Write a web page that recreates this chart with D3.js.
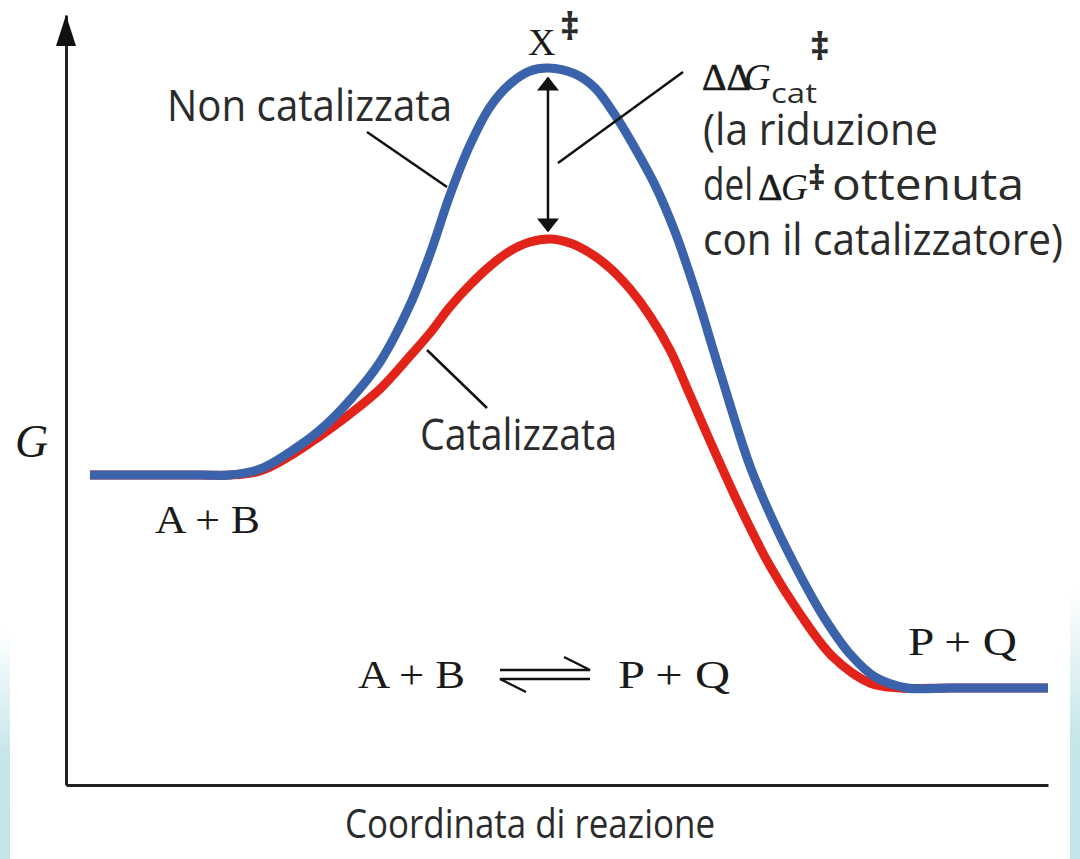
<!DOCTYPE html>
<html>
<head>
<meta charset="utf-8">
<script src="https://cdn.jsdelivr.net/npm/d3@7"></script>
<style>
  html, body { margin: 0; padding: 0; background: #fff; }
  svg { display: block; }
  .sans { font-family: "Open Sans", "Noto Sans", sans-serif; fill: #2b2b2b; }
  .serif { font-family: "Liberation Serif", "DejaVu Serif", serif; fill: #1a1a1a; }
  .delta { stroke: #1a1a1a; stroke-width: 0.7; }
</style>
</head>
<body>
<svg id="chart"></svg>
<script>
// reaction coordinate (0-100) and free energy G (0-100, arbitrary units)
const uncatX = [2.44, 13.65, 16.70, 19.76, 22.81, 25.87, 28.92, 31.98, 35.03, 37.07, 39.10, 41.14, 43.18, 45.21, 47.25, 49.08,
  51.83, 53.87, 55.91, 57.94, 59.98, 62.02, 64.05, 66.60, 69.65, 72.20, 74.75, 77.29, 79.84, 82.38, 85.64, 90.02, 100];
const uncatG = [40.26, 40.26, 40.26, 41.04, 43.25, 46.10, 50.00, 54.94, 62.34, 68.96, 76.62, 83.12, 88.05, 91.04, 92.73, 93.12,
  92.34, 90.52, 87.01, 82.73, 77.92, 71.82, 64.29, 53.64, 41.43, 33.77, 27.27, 21.56, 17.01, 14.03, 12.60, 12.60, 12.60];

const catX = [2.44, 13.65, 16.70, 19.76, 22.81, 25.87, 28.92, 31.98, 35.03, 37.07, 39.10, 41.14, 43.18, 45.21, 47.25, 49.29,
  51.32, 53.36, 55.40, 57.43, 59.47, 61.51, 63.54, 65.58, 68.64, 71.69, 74.75, 78.11, 81.87, 84.93, 90.02, 100];
const catG = [40.26, 40.26, 40.26, 40.78, 42.73, 45.32, 48.18, 51.43, 55.71, 58.70, 62.08, 64.94, 67.40, 69.35, 70.52, 70.91,
  70.39, 69.09, 67.14, 64.42, 60.91, 56.49, 50.65, 44.68, 36.10, 28.44, 22.21, 16.62, 13.25, 12.60, 12.60, 12.60];

const seriesNames = ["Catalizzata", "Non catalizzata"];
const seriesColors = ["#e2231a", "#3b63ab"];

const width = 1080, height = 859;
const margin = { top: 15, right: 32, bottom: 74, left: 66 };

const svg = d3.select("#chart").attr("width", width).attr("height", height);

const x = d3.scaleLinear().domain([0, 100]).range([margin.left, width - margin.right]);
const y = d3.scaleLinear().domain([0, 100]).range([height - margin.bottom, margin.top]);

// light blue side strips
const defs = svg.append("defs");
const grad = defs.append("linearGradient").attr("id", "strip").attr("x1", 0).attr("y1", 0).attr("x2", 0).attr("y2", 1);
grad.append("stop").attr("offset", "0%").attr("stop-color", "#ffffff");
grad.append("stop").attr("offset", "55%").attr("stop-color", "#c6e6ea");
grad.append("stop").attr("offset", "100%").attr("stop-color", "#c3e4e9");
svg.append("rect").attr("x", 0).attr("y", 630).attr("width", 10).attr("height", height - 630).attr("fill", "url(#strip)");
svg.append("rect").attr("x", 1070).attr("y", 590).attr("width", 10).attr("height", height - 590).attr("fill", "url(#strip)");

defs.append("marker")
  .attr("id", "head")
  .attr("viewBox", "0 0 10 10")
  .attr("refX", 9).attr("refY", 5)
  .attr("markerWidth", 14).attr("markerHeight", 22)
  .attr("markerUnits", "userSpaceOnUse")
  .attr("orient", "auto-start-reverse")
  .attr("preserveAspectRatio", "none")
  .append("path").attr("d", "M0,0 L10,5 L0,10 Z").attr("fill", "#111");

// axes
const xAxis = svg.append("g")
  .attr("transform", `translate(0,${y(0)})`)
  .call(d3.axisBottom(x).ticks(0).tickSizeOuter(0));
const yAxis = svg.append("g")
  .attr("transform", `translate(${x(0)},0)`)
  .call(d3.axisLeft(y).ticks(0).tickSizeOuter(0));
[xAxis, yAxis].forEach((g) => g.select(".domain").attr("stroke", "#222").attr("stroke-width", 3));

const tipY = y(100);
svg.append("path")
  .attr("d", `M${x(0)},${tipY} L${x(0) - 10},${tipY + 31} L${x(0) + 10},${tipY + 31} Z`)
  .attr("fill", "#111");

// curves
const line = d3.line()
  .x((d) => x(d[0]))
  .y((d) => y(d[1]))
  .curve(d3.curveCatmullRom.alpha(0.5));

const series = [d3.zip(catX, catG), d3.zip(uncatX, uncatG)];

svg.append("g")
  .selectAll("path")
  .data(series)
  .join("path")
  .attr("d", line)
  .attr("fill", "none")
  .attr("stroke", (d, i) => seriesColors[i])
  .attr("stroke-width", 9)
  .attr("stroke-linejoin", "round");

// double arrow between the two transition states
const peakU = uncatX[d3.maxIndex(uncatG)];
const topG = d3.max(uncatG), botG = d3.max(catG);
svg.append("line")
  .attr("x1", x(peakU)).attr("x2", x(peakU))
  .attr("y1", y(topG) + 10).attr("y2", y(botG) - 8)
  .attr("stroke", "#111").attr("stroke-width", 2.5)
  .attr("marker-start", "url(#head)")
  .attr("marker-end", "url(#head)");

// leader lines
const leaders = [
  [367, 132, 447, 187],
  [427, 350, 487, 408],
  [683, 72, 558, 163]
];
svg.append("g")
  .selectAll("line")
  .data(leaders)
  .join("line")
  .attr("x1", (d) => d[0]).attr("y1", (d) => d[1])
  .attr("x2", (d) => d[2]).attr("y2", (d) => d[3])
  .attr("stroke", "#111").attr("stroke-width", 2.5);

// labels
svg.append("text").attr("class", "sans").attr("x", 167).attr("y", 121)
  .attr("font-size", 43).attr("textLength", 285).attr("lengthAdjust", "spacingAndGlyphs")
  .text(seriesNames[1]);
svg.append("text").attr("class", "sans").attr("x", 420).attr("y", 450)
  .attr("font-size", 43).attr("textLength", 197).attr("lengthAdjust", "spacingAndGlyphs")
  .text(seriesNames[0]);
svg.append("text").attr("class", "sans").attr("x", 345).attr("y", 838)
  .attr("font-size", 40).attr("textLength", 370).attr("lengthAdjust", "spacingAndGlyphs")
  .text("Coordinata di reazione");

svg.append("text").attr("class", "serif").attr("x", 15).attr("y", 457)
  .attr("font-size", 46).attr("font-style", "italic").text("G");

svg.append("text").attr("class", "serif").attr("x", 155).attr("y", 533)
  .attr("font-size", 41).attr("textLength", 105).attr("lengthAdjust", "spacingAndGlyphs").text("A + B");
svg.append("text").attr("class", "serif").attr("x", 908).attr("y", 655)
  .attr("font-size", 41).attr("textLength", 109).attr("lengthAdjust", "spacingAndGlyphs").text("P + Q");

// equation
svg.append("text").attr("class", "serif").attr("x", 358).attr("y", 688)
  .attr("font-size", 41).attr("textLength", 107).attr("lengthAdjust", "spacingAndGlyphs").text("A + B");
svg.append("text").attr("class", "serif").attr("x", 618).attr("y", 688)
  .attr("font-size", 41).attr("textLength", 112).attr("lengthAdjust", "spacingAndGlyphs").text("P + Q");
svg.append("path")
  .attr("d", "M500,670 L590,670 L564,657 M590,679 L500,679 L526,692")
  .attr("fill", "none").attr("stroke", "#111").attr("stroke-width", 2.4);

// X double dagger
svg.append("text").attr("class", "serif").attr("x", 528).attr("y", 55)
  .attr("font-size", 38).text("X");
svg.append("text").attr("class", "sans").attr("x", 560).attr("y", 40)
  .attr("font-size", 38).attr("font-weight", 700).attr("fill", "#111").text("‡");

// ΔΔG‡cat annotation
const ann = svg.append("g");
ann.append("text").attr("class", "serif delta").attr("x", 702).attr("y", 90)
  .attr("font-size", 38).text("ΔΔ");
ann.append("text").attr("class", "serif").attr("x", 744).attr("y", 90)
  .attr("font-size", 37).attr("font-style", "italic").text("G");
ann.append("text").attr("class", "sans").attr("x", 771).attr("y", 103)
  .attr("font-size", 27).attr("textLength", 46).attr("lengthAdjust", "spacingAndGlyphs").text("cat");
ann.append("text").attr("class", "sans").attr("x", 810).attr("y", 60)
  .attr("font-size", 38).attr("font-weight", 700).attr("fill", "#111").text("‡");

ann.append("text").attr("class", "sans").attr("x", 703).attr("y", 145)
  .attr("font-size", 43).attr("textLength", 235).attr("lengthAdjust", "spacingAndGlyphs").text("(la riduzione");
ann.append("text").attr("class", "sans").attr("x", 703).attr("y", 200)
  .attr("font-size", 43).attr("textLength", 50).attr("lengthAdjust", "spacingAndGlyphs").text("del");
ann.append("text").attr("class", "serif delta").attr("x", 758).attr("y", 200)
  .attr("font-size", 38).text("Δ");
ann.append("text").attr("class", "serif").attr("x", 781).attr("y", 200)
  .attr("font-size", 37).attr("font-style", "italic").text("G");
ann.append("text").attr("class", "sans").attr("x", 808).attr("y", 190)
  .attr("font-size", 34).attr("font-weight", 700).attr("fill", "#111").text("‡");
ann.append("text").attr("class", "sans").attr("x", 832).attr("y", 200)
  .attr("font-size", 43).attr("textLength", 192).attr("lengthAdjust", "spacingAndGlyphs").text("ottenuta");
ann.append("text").attr("class", "sans").attr("x", 703).attr("y", 255)
  .attr("font-size", 43).attr("textLength", 360).attr("lengthAdjust", "spacingAndGlyphs").text("con il catalizzatore)");
</script>
</body>
</html>
